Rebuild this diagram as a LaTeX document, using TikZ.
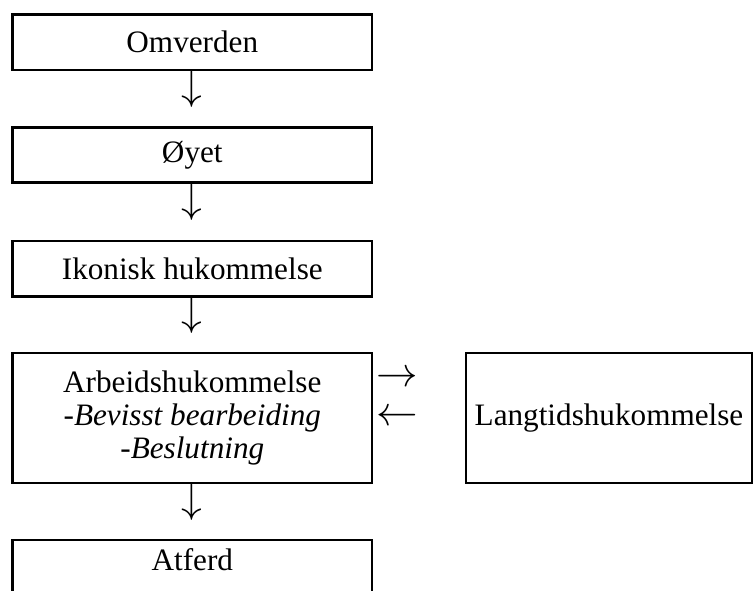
\documentclass[tikz,border=0pt]{standalone}
\usepackage{fontspec}
\setmainfont{Liberation Serif}
\newcommand{\TXT}[1]{\fontsize{15.6pt}{16.5pt}\selectfont #1}
\newcommand{\ARR}[1]{\fontsize{20pt}{20pt}\selectfont #1}

\begin{document}
\begin{tikzpicture}[x=0.5pt,y=-0.5pt,
    box/.style={draw,line width=1.3pt,minimum width=179.6pt,minimum height=27.7pt,
                inner sep=0pt,align=center,font=\TXT},
    glyph/.style={inner sep=0pt,font=\ARR}]
    \useasboundingbox (0,0) rectangle (756,590);

    \node[box] (omv)  at (192.3,42.3)  {Omverden};
    \node[box] (oyet) at (192.3,155)   {Øyet};
    \node[box] (ikon) at (192.3,268.5) {Ikonisk hukommelse};
    \node[box,minimum height=65pt] (arb) at (192.3,418)
        {Arbeidshukommelse\\\textit{-Bevisst bearbeiding}\\\textit{-Beslutning}};
    \node[box,minimum width=143pt,minimum height=65pt] (lang) at (609,418)
        {Langtidshukommelse};
    % bottom edge falls off the page
    \node[box,anchor=base,minimum height=0pt,text height=15pt,text depth=20pt]
        (atf) at (192.3,570) {Atferd};

    \node[glyph] (d1) at (192,89)  {$\downarrow$};
    \node[glyph] (d2) at (192,202) {$\downarrow$};
    \node[glyph] (d3) at (192,315) {$\downarrow$};
    \node[glyph] (d4) at (192,502) {$\downarrow$};
    \node[glyph] (r1) at (397,379) {$\rightarrow$};
    \node[glyph] (l1) at (397,418) {$\leftarrow$};
\end{tikzpicture}
\end{document}
